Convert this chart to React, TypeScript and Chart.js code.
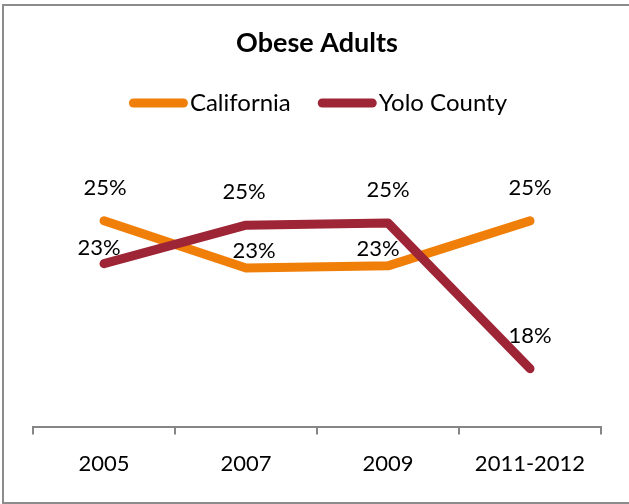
import React, { useEffect, useRef } from "react";
import { Chart, registerables } from "chart.js";

Chart.register(...registerables);

const TITLE = "Obese Adults";
const CATEGORIES = ["2005", "2007", "2009", "2011-2012"];
const SERIES_NAMES = ["California", "Yolo County"];
const CALIFORNIA = [24.8, 22.6, 22.7, 24.8];
const YOLO = [22.8, 24.6, 24.7, 17.9];
const COLORS = ["#F07F09", "#9E2536"];
const Y_MIN = 15.2;
const Y_MAX = 30;

// label nudges (dx, dy above point) per dataset/point, style only
const LABEL_NUDGE = [
  [[1, 33], [8, 17], [-10, 17], [0, 33]],
  [[-5, 16], [-2, 33], [0, 33], [0, 33]],
];

const FONT = "Lato";

const overlayPlugin = {
  id: "overlay",
  afterDatasetsDraw(chart: any) {
    const ctx = chart.ctx;
    ctx.save();
    // data labels
    ctx.font = `22px ${FONT}`;
    ctx.fillStyle = "#000";
    ctx.textAlign = "center";
    ctx.textBaseline = "middle";
    chart.data.datasets.forEach((ds: any, di: number) => {
      const meta = chart.getDatasetMeta(di);
      meta.data.forEach((pt: any, i: number) => {
        const v = ds.data[i] as number;
        const [dx, dy] = LABEL_NUDGE[di][i];
        ctx.fillText(Math.round(v) + "%", pt.x + dx, pt.y - dy);
      });
    });
    // legend
    ctx.font = `24px ${FONT}`;
    const boxW = 59;
    const boxH = 9;
    const gapText = 2;
    const gapItem = 27;
    const items = chart.data.datasets.map((ds: any) => ({
      label: ds.label,
      color: ds.borderColor,
      w: boxW + gapText + ctx.measureText(ds.label).width,
    }));
    const total = items.reduce((s: number, it: any) => s + it.w, 0) + gapItem * (items.length - 1);
    const cx = (chart.chartArea.left + chart.chartArea.right) / 2 + 1;
    let x = cx - total / 2;
    const y = 103;
    items.forEach((it: any) => {
      ctx.fillStyle = it.color;
      ctx.beginPath();
      const r = boxH / 2;
      ctx.moveTo(x + r, y - r);
      ctx.lineTo(x + boxW - r, y - r);
      ctx.arc(x + boxW - r, y, r, -Math.PI / 2, Math.PI / 2);
      ctx.lineTo(x + r, y + r);
      ctx.arc(x + r, y, r, Math.PI / 2, (3 * Math.PI) / 2);
      ctx.closePath();
      ctx.fill();
      ctx.fillStyle = "#000";
      ctx.textAlign = "left";
      ctx.fillText(it.label, x + boxW + gapText, y);
      x += it.w + gapItem;
    });
    ctx.restore();
  },
};

export default function App() {
  const canvasRef = useRef<HTMLCanvasElement | null>(null);

  useEffect(() => {
    if (!canvasRef.current) return;
    const chart = new Chart(canvasRef.current, {
      type: "line",
      data: {
        labels: CATEGORIES,
        datasets: [
          {
            label: SERIES_NAMES[0],
            data: CALIFORNIA,
            borderColor: COLORS[0],
            backgroundColor: COLORS[0],
            borderWidth: 9,
            borderCapStyle: "round",
            borderJoinStyle: "round",
            pointRadius: 0,
            tension: 0,
            order: 1,
          },
          {
            label: SERIES_NAMES[1],
            data: YOLO,
            borderColor: COLORS[1],
            backgroundColor: COLORS[1],
            borderWidth: 9,
            borderCapStyle: "round",
            borderJoinStyle: "round",
            pointRadius: 0,
            tension: 0,
            order: 0,
          },
        ],
      },
      options: {
        animation: false,
        responsive: false,
        maintainAspectRatio: false,
        layout: { padding: { left: 33, right: 28, top: 0, bottom: 11 } },
        plugins: {
          legend: { display: false },
          tooltip: { enabled: false },
          title: {
            display: true,
            text: TITLE,
            color: "#000",
            font: { family: FONT, size: 27, weight: "bold" },
            padding: { top: 27, bottom: 50 },
          },
        },
        scales: {
          x: {
            offset: true,
            grid: {
              offset: true,
              drawOnChartArea: false,
              drawTicks: true,
              tickLength: 8,
              color: "#868686",
              lineWidth: 2,
            },
            border: { display: true, color: "#868686", width: 2 },
            ticks: {
              color: "#000",
              font: { family: FONT, size: 22 },
              padding: 16,
              maxRotation: 0,
            },
          },
          y: {
            display: false,
            min: Y_MIN,
            max: Y_MAX,
          },
        },
      },
      plugins: [overlayPlugin],
    });
    return () => chart.destroy();
  }, []);

  return (
    <div style={{ position: "fixed", left: 0, top: 0, width: 629, height: 504, background: "#fff", overflow: "hidden" }}>
      <canvas ref={canvasRef} width={629} height={504} style={{ position: "absolute", left: 0, top: 0 }} />
      <div
        style={{
          position: "absolute",
          left: 2,
          top: 4,
          width: 640,
          height: 500,
          boxSizing: "border-box",
          border: "2px solid #8C8C8C",
          pointerEvents: "none",
        }}
      />
    </div>
  );
}
